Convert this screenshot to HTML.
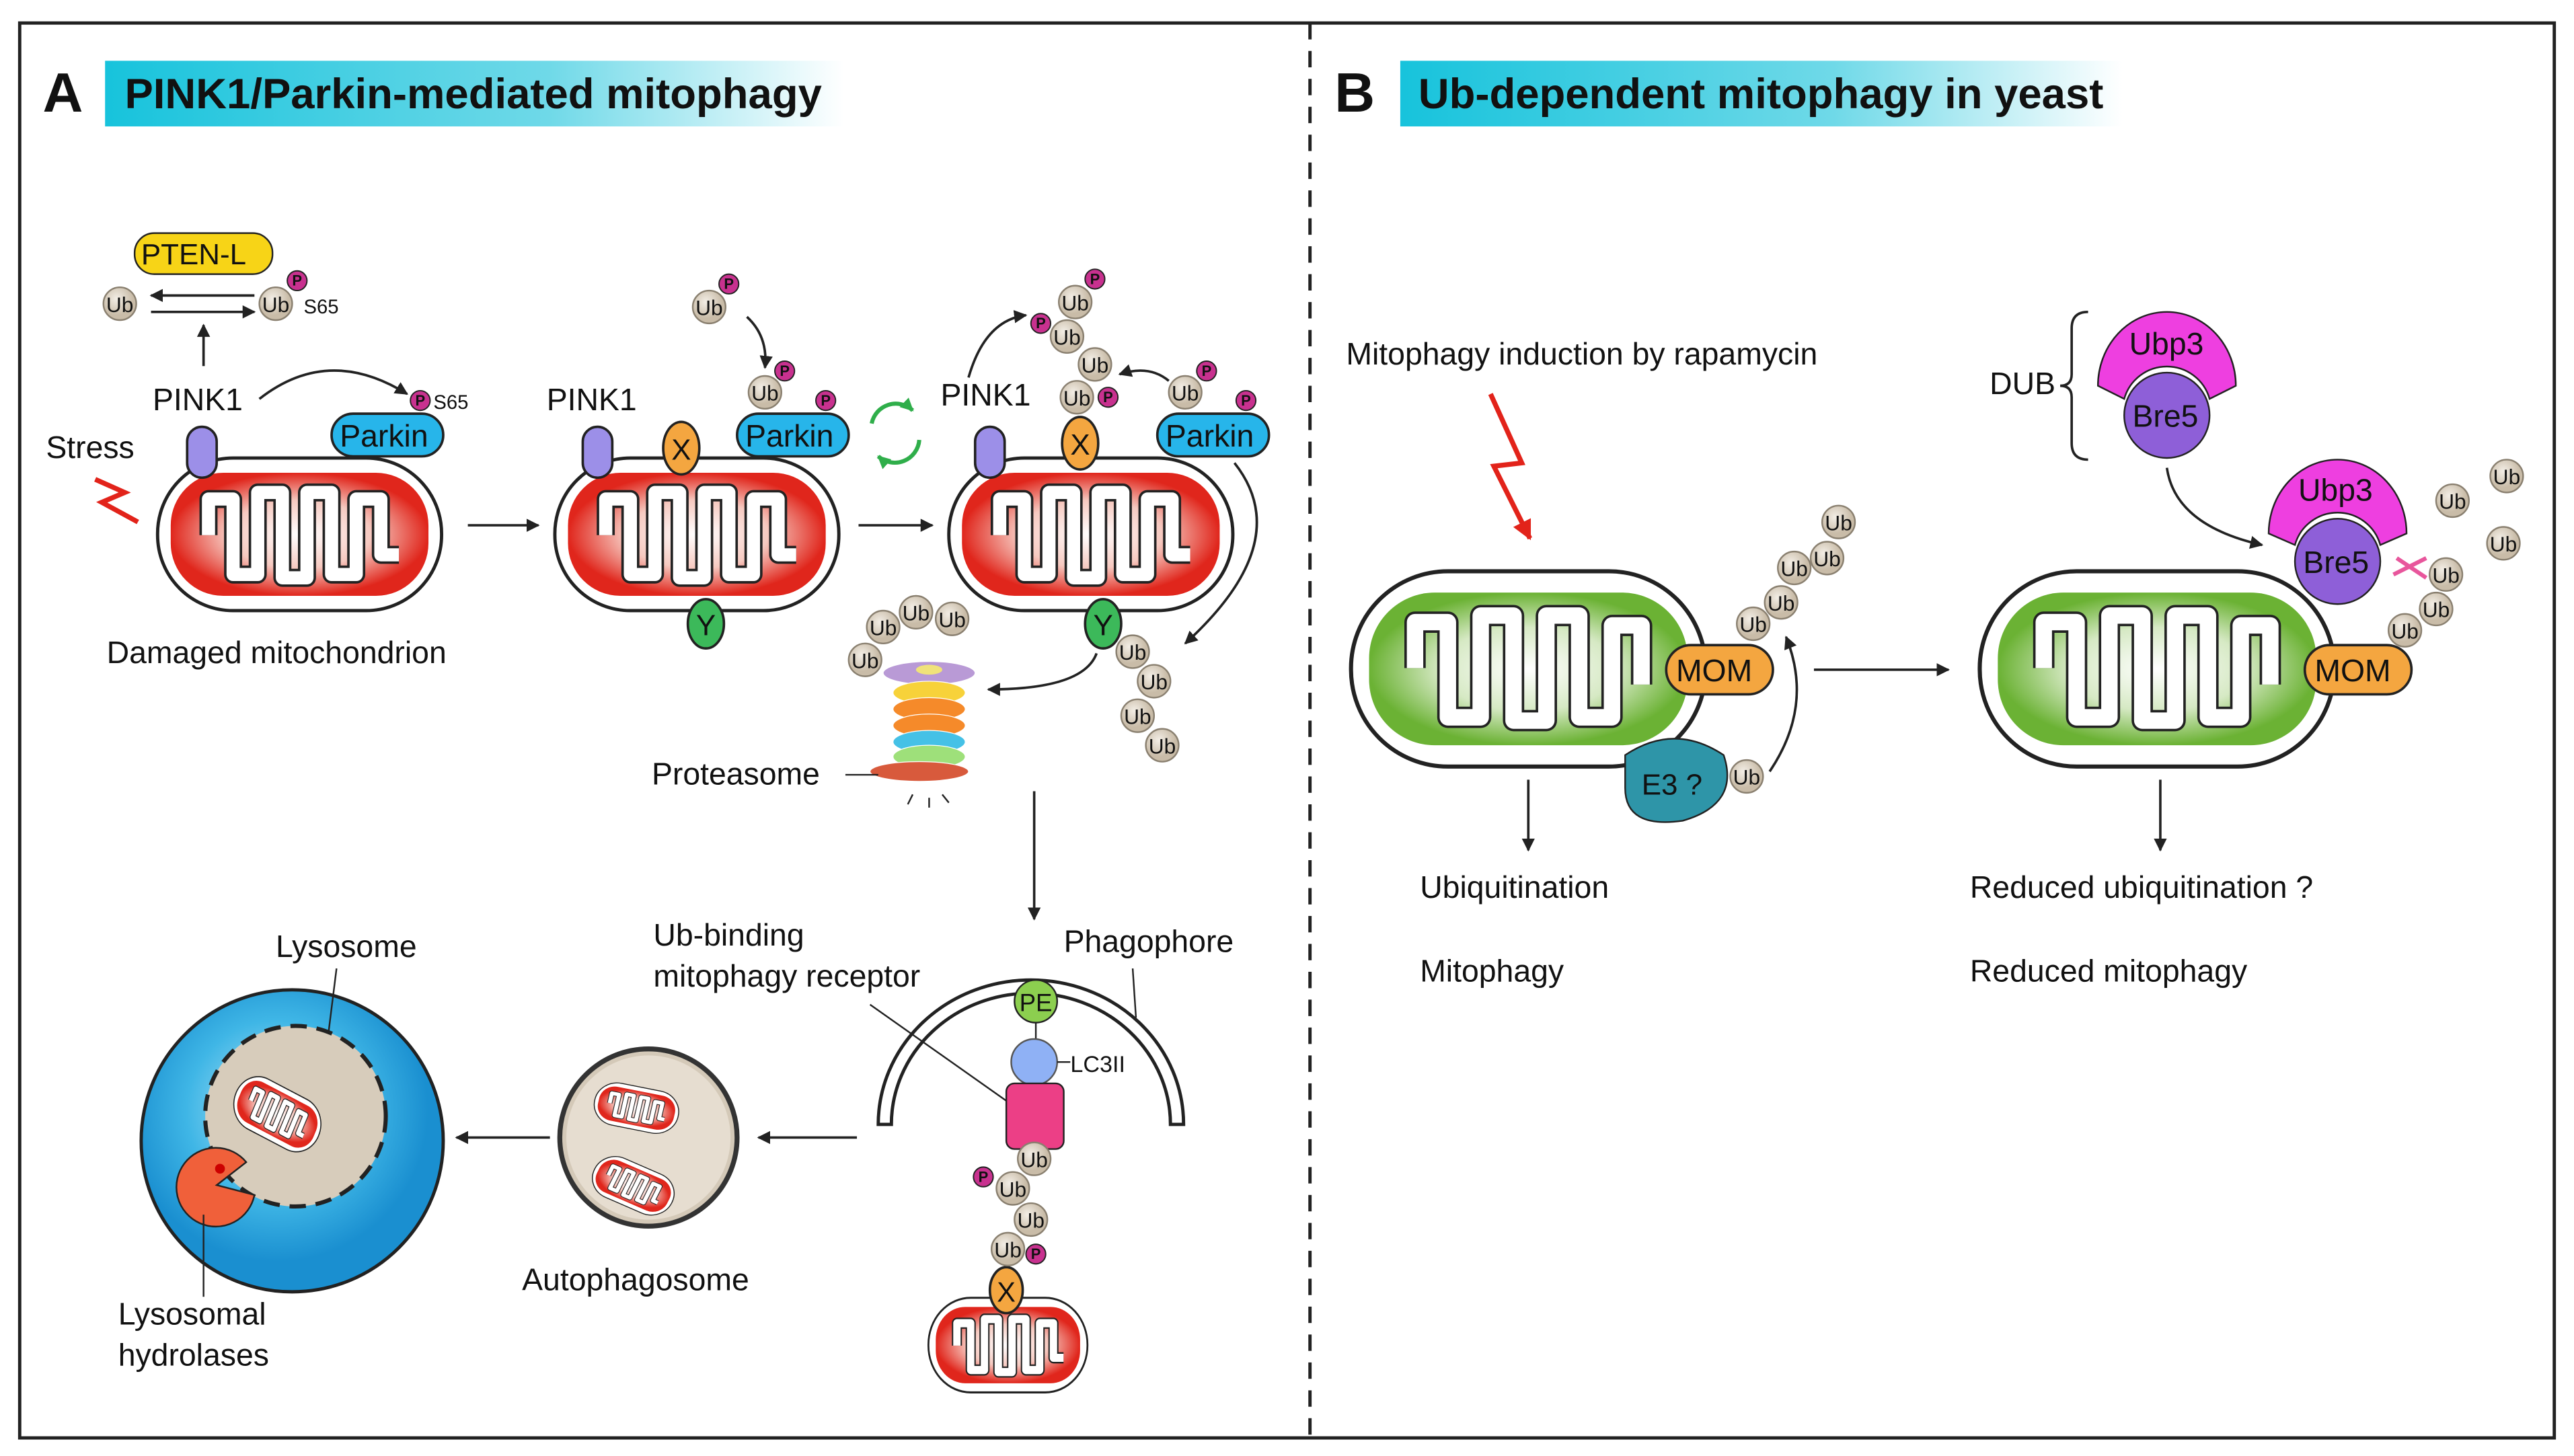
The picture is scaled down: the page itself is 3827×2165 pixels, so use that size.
<!DOCTYPE html>
<html><head><meta charset="utf-8"><style>
html,body{margin:0;padding:0;background:#fff;}
svg{display:block;}
text{font-family:"Liberation Sans",Arial,sans-serif;fill:#111;}
.ub{font-size:13px;text-anchor:middle;}
.lab{font-size:19px;}
</style></head><body>
<svg width="3827" height="2165" viewBox="0 0 1568 887" xmlns="http://www.w3.org/2000/svg">
<defs>
<linearGradient id="tb" x1="0" x2="1"><stop offset="0" stop-color="#17c3dc"/><stop offset="0.6" stop-color="#6fd9e8"/><stop offset="1" stop-color="#fff"/></linearGradient>
<radialGradient id="rg"><stop offset="0" stop-color="#fff"/><stop offset="0.55" stop-color="#f6c9c0"/><stop offset="1" stop-color="#e0261c"/></radialGradient>
<radialGradient id="gg"><stop offset="0" stop-color="#fff"/><stop offset="0.55" stop-color="#d6e9c4"/><stop offset="1" stop-color="#6bb234"/></radialGradient>
<radialGradient id="lys" cx="0.45" cy="0.4"><stop offset="0" stop-color="#bfe9f8"/><stop offset="0.6" stop-color="#3fb6e6"/><stop offset="1" stop-color="#1a8fd0"/></radialGradient>
<radialGradient id="ubg" cx="0.4" cy="0.35"><stop offset="0" stop-color="#f3eee6"/><stop offset="1" stop-color="#c9bca8"/></radialGradient>
<marker id="ar" viewBox="0 0 10 10" refX="9" refY="5" markerWidth="8" markerHeight="8" markerUnits="userSpaceOnUse" orient="auto"><path d="M0,0 L10,5 L0,10 z" fill="#222"/></marker>
<marker id="ag" viewBox="0 0 10 10" refX="9" refY="5" markerWidth="8" markerHeight="8" markerUnits="userSpaceOnUse" orient="auto"><path d="M0,0 L10,5 L0,10 z" fill="#2fae4a"/></marker>
<marker id="arr" viewBox="0 0 10 10" refX="9" refY="5" markerWidth="12" markerHeight="12" markerUnits="userSpaceOnUse" orient="auto"><path d="M0,0 L10,5 L0,10 z" fill="#e2231a"/></marker>
<g id="mitoR">
<rect x="1" y="1" width="173" height="93" rx="46" fill="#fff" stroke="#222" stroke-width="2"/>
<rect x="9" y="10" width="157" height="75" rx="32" fill="url(#rg)"/>
<path d="M32 48 V26 H47 V72 H62 V22 H77 V74 H92 V22 H107 V72 H122 V26 H137 V60 H148" fill="none" stroke="#222" stroke-width="11" stroke-linejoin="round"/>
<path d="M32 48 V26 H47 V72 H62 V22 H77 V74 H92 V22 H107 V72 H122 V26 H137 V60 H148" fill="none" stroke="#fff" stroke-width="8" stroke-linejoin="round"/>
</g>
<g id="mitoG">
<rect x="1" y="1" width="216" height="119" rx="59" fill="#fff" stroke="#222" stroke-width="2.5"/>
<rect x="12" y="14" width="194" height="93" rx="40" fill="url(#gg)"/>
<path d="M40 60 V32 H60 V90 H80 V28 H100 V92 H120 V28 H140 V90 H160 V34 H178 V70" fill="none" stroke="#222" stroke-width="13" stroke-linejoin="round"/>
<path d="M40 60 V32 H60 V90 H80 V28 H100 V92 H120 V28 H140 V90 H160 V34 H178 V70" fill="none" stroke="#fff" stroke-width="10" stroke-linejoin="round"/>
</g>
</defs>

<rect x="12" y="14" width="1544" height="862" fill="none" stroke="#222" stroke-width="2"/>
<line x1="798" y1="14" x2="798" y2="876" stroke="#222" stroke-width="2" stroke-dasharray="10,7"/>

<text x="26" y="68" style="font-size:34px;font-weight:bold">A</text>
<rect x="64" y="37" width="450" height="40" fill="url(#tb)"/>
<text x="76" y="66" style="font-size:26px;font-weight:bold">PINK1/Parkin-mediated mitophagy</text>
<text x="813" y="68" style="font-size:34px;font-weight:bold">B</text>
<rect x="853" y="37" width="440" height="40" fill="url(#tb)"/>
<text x="864" y="66" style="font-size:26px;font-weight:bold">Ub-dependent mitophagy in yeast</text>

<use href="#mitoR" x="95" y="278"/>
<use href="#mitoR" x="337" y="278"/>
<use href="#mitoR" x="577" y="278"/>
<use href="#mitoR" transform="translate(565,790) scale(0.56,0.62)"/>

<rect x="82" y="142" width="84" height="25" rx="12" fill="#f7d417" stroke="#222"/>
<text x="86" y="161" style="font-size:18px">PTEN-L</text>
<line x1="155" y1="180" x2="92" y2="180" stroke="#222" stroke-width="1.5" marker-end="url(#ar)"/>
<line x1="92" y1="190" x2="155" y2="190" stroke="#222" stroke-width="1.5" marker-end="url(#ar)"/>
<line x1="124" y1="223" x2="124" y2="198" stroke="#222" stroke-width="1.5" marker-end="url(#ar)"/>
<text x="185" y="191" style="font-size:12px">S65</text>
<text x="93" y="250" class="lab">PINK1</text>
<path d="M158 243 Q200 210 248 240" fill="none" stroke="#222" stroke-width="1.5" marker-end="url(#ar)"/>
<text x="264" y="249" style="font-size:12px">S65</text>
<text x="28" y="279" class="lab">Stress</text>
<path d="M58 292 L76 300 L62 306 L84 318" fill="none" stroke="#e2231a" stroke-width="3"/>
<text x="65" y="404" class="lab">Damaged mitochondrion</text>
<line x1="285" y1="320" x2="328" y2="320" stroke="#222" stroke-width="1.5" marker-end="url(#ar)"/>
<line x1="523" y1="320" x2="568" y2="320" stroke="#222" stroke-width="1.5" marker-end="url(#ar)"/>
<text x="333" y="250" class="lab">PINK1</text>
<text x="573" y="247" class="lab">PINK1</text>

<g fill="#9c8fe8" stroke="#222" stroke-width="1.5">
<rect x="114" y="260" width="18" height="31" rx="9"/>
<rect x="355" y="260" width="18" height="31" rx="9"/>
<rect x="594" y="260" width="18" height="31" rx="9"/>
</g>
<g fill="#f4a640" stroke="#222" stroke-width="1.5">
<ellipse cx="415" cy="273" rx="11" ry="16"/>
<ellipse cx="658" cy="270" rx="11" ry="16"/>
<ellipse cx="613" cy="786" rx="10" ry="14"/>
</g>
<text x="415" y="280" style="font-size:18px" text-anchor="middle">X</text>
<text x="658" y="277" style="font-size:18px" text-anchor="middle">X</text>
<text x="613" y="793" style="font-size:17px" text-anchor="middle">X</text>
<g fill="#3cb95a" stroke="#222" stroke-width="1.5">
<ellipse cx="430" cy="380" rx="11" ry="15"/>
<ellipse cx="672" cy="380" rx="11" ry="15"/>
</g>
<text x="430" y="387" style="font-size:18px" text-anchor="middle">Y</text>
<text x="672" y="387" style="font-size:18px" text-anchor="middle">Y</text>
<g fill="#27b5ea" stroke="#222" stroke-width="1.5">
<rect x="202" y="252" width="68" height="26" rx="13"/>
<rect x="449" y="252" width="68" height="26" rx="13"/>
<rect x="705" y="252" width="68" height="26" rx="13"/>
</g>
<text x="207" y="272" style="font-size:19px">Parkin</text>
<text x="454" y="272" style="font-size:19px">Parkin</text>
<text x="710" y="272" style="font-size:19px">Parkin</text>

<path d="M531 258 A15 15 0 0 1 556 250" fill="none" stroke="#2fae4a" stroke-width="2.5" marker-end="url(#ag)"/>
<path d="M560 268 A15 15 0 0 1 535 278" fill="none" stroke="#2fae4a" stroke-width="2.5" marker-end="url(#ag)"/>

<path d="M455 193 Q468 205 466 224" fill="none" stroke="#222" stroke-width="1.5" marker-end="url(#ar)"/>
<path d="M590 230 Q600 195 625 192" fill="none" stroke="#222" stroke-width="1.5" marker-end="url(#ar)"/>
<path d="M712 232 Q700 222 682 228" fill="none" stroke="#222" stroke-width="1.5" marker-end="url(#ar)"/>
<path d="M752 282 Q790 330 722 392" fill="none" stroke="#222" stroke-width="1.5" marker-end="url(#ar)"/>
<path d="M668 398 Q660 420 602 420" fill="none" stroke="#222" stroke-width="1.5" marker-end="url(#ar)"/>
<line x1="630" y1="482" x2="630" y2="560" stroke="#222" stroke-width="1.5" marker-end="url(#ar)"/>
<line x1="522" y1="693" x2="462" y2="693" stroke="#222" stroke-width="1.5" marker-end="url(#ar)"/>
<line x1="335" y1="693" x2="278" y2="693" stroke="#222" stroke-width="1.5" marker-end="url(#ar)"/>

<g stroke="#fff" stroke-width="0.5">
<ellipse cx="566" cy="410" rx="28" ry="7" fill="#b99ad6"/>
<ellipse cx="566" cy="422" rx="22" ry="7" fill="#f7d23a"/>
<ellipse cx="566" cy="432" rx="22" ry="7" fill="#f58a2a"/>
<ellipse cx="566" cy="442" rx="22" ry="7" fill="#f58a2a"/>
<ellipse cx="566" cy="452" rx="22" ry="7" fill="#45c1e6"/>
<ellipse cx="566" cy="461" rx="22" ry="7" fill="#9ee07a"/>
<ellipse cx="560" cy="470" rx="30" ry="6" fill="#d85a3c"/>
</g>
<ellipse cx="566" cy="408" rx="8" ry="3" fill="#f0e27a"/>
<text x="397" y="478" class="lab">Proteasome</text>
<line x1="515" y1="472" x2="535" y2="472" stroke="#222"/>
<path d="M556 484 l-3 6 M566 486 v6 M574 484 l4 5" stroke="#222"/>

<path d="M535 685 A93 88 0 0 1 721 685 L713 685 A85 80 0 0 0 543 685 Z" fill="#fff" stroke="#222" stroke-width="2"/>
<text x="398" y="576" class="lab">Ub-binding</text>
<text x="398" y="601" class="lab">mitophagy receptor</text>
<text x="648" y="580" class="lab">Phagophore</text>
<line x1="530" y1="612" x2="615" y2="672" stroke="#222"/>
<line x1="690" y1="590" x2="692" y2="620" stroke="#222"/>
<line x1="631" y1="623" x2="631" y2="705" stroke="#222"/>
<circle cx="631" cy="610" r="13" fill="#8ccf4f" stroke="#222"/>
<text x="631" y="616" style="font-size:15px" text-anchor="middle">PE</text>
<circle cx="630" cy="647" r="14" fill="#8fb1f5" stroke="#555"/>
<text x="652" y="653" style="font-size:14px">LC3II</text>
<line x1="644" y1="647" x2="652" y2="647" stroke="#222"/>
<rect x="613" y="660" width="35" height="40" rx="5" fill="#ec3f86" stroke="#222"/>

<circle cx="395" cy="693" r="54" fill="#d4c9b8" stroke="#333" stroke-width="3"/>
<circle cx="395" cy="693" r="50" fill="#e6ddd0"/>
<use href="#mitoR" transform="translate(365,657) scale(0.3,0.28) rotate(12)"/>
<use href="#mitoR" transform="translate(368,700) scale(0.3,0.28) rotate(25)"/>
<text x="318" y="786" class="lab">Autophagosome</text>

<circle cx="178" cy="695" r="92" fill="url(#lys)" stroke="#222" stroke-width="2"/>
<circle cx="180" cy="680" r="55" fill="#d7ccbb" stroke="#222" stroke-width="2.5" stroke-dasharray="10,6"/>
<use href="#mitoR" transform="translate(150,650) scale(0.32,0.36) rotate(25)"/>
<path d="M155 728 A24 24 0 1 1 150 708 L132 722 Z" fill="#f0603a" stroke="#222"/>
<circle cx="134" cy="712" r="3" fill="#c00"/>
<text x="168" y="583" class="lab">Lysosome</text>
<line x1="205" y1="590" x2="200" y2="630" stroke="#222"/>
<line x1="124" y1="740" x2="124" y2="790" stroke="#222"/>
<text x="72" y="807" class="lab">Lysosomal</text>
<text x="72" y="832" class="lab">hydrolases</text>

<text x="820" y="222" class="lab">Mitophagy induction by rapamycin</text>
<path d="M908 240 L927 282 L910 284 L932 328" fill="none" stroke="#e2231a" stroke-width="3" marker-end="url(#arr)"/>
<use href="#mitoG" x="822" y="347"/>
<use href="#mitoG" x="1205" y="347"/>
<g fill="#f4a640" stroke="#222" stroke-width="1.5">
<rect x="1015" y="393" width="65" height="30" rx="15"/>
<rect x="1404" y="393" width="65" height="30" rx="15"/>
</g>
<text x="1021" y="415" style="font-size:19px">MOM</text>
<text x="1410" y="415" style="font-size:19px">MOM</text>
<path d="M990 460 Q1020 440 1050 460 Q1060 490 1025 500 Q990 505 990 480 Z" fill="#2e95a8" stroke="#222"/>
<text x="1000" y="484" style="font-size:18px">E3 ?</text>
<path d="M1078 470 Q1105 430 1088 388" fill="none" stroke="#222" stroke-width="1.5" marker-end="url(#ar)"/>
<line x1="931" y1="475" x2="931" y2="518" stroke="#222" stroke-width="1.5" marker-end="url(#ar)"/>
<text x="865" y="547" class="lab">Ubiquitination</text>
<text x="865" y="598" class="lab">Mitophagy</text>
<line x1="1105" y1="408" x2="1187" y2="408" stroke="#222" stroke-width="1.5" marker-end="url(#ar)"/>
<line x1="1316" y1="475" x2="1316" y2="518" stroke="#222" stroke-width="1.5" marker-end="url(#ar)"/>
<text x="1200" y="547" class="lab">Reduced ubiquitination ?</text>
<text x="1200" y="598" class="lab">Reduced mitophagy</text>
<text x="1212" y="240" class="lab">DUB</text>
<path d="M1272 190 Q1262 190 1262 200 L1262 228 Q1262 235 1255 235 Q1262 235 1262 242 L1262 270 Q1262 280 1272 280" fill="none" stroke="#222" stroke-width="1.5"/>
<path d="M1320 285 Q1325 320 1378 332" fill="none" stroke="#222" stroke-width="1.5" marker-end="url(#ar)"/>
<path d="M1278 235 A42 45 0 0 1 1362 235 L1346 243 A27 27 0 0 0 1294 243 Z" fill="#ee3fe0" stroke="#222"/>
<circle cx="1320" cy="253" r="26" fill="#8e5fd8" stroke="#222"/>
<text x="1297" y="216" style="font-size:19px">Ubp3</text>
<text x="1299" y="260" style="font-size:19px">Bre5</text>
<path d="M1382 325 A42 45 0 0 1 1466 325 L1450 332 A27 27 0 0 0 1398 332 Z" fill="#ee3fe0" stroke="#222"/>
<circle cx="1424" cy="342" r="26" fill="#8e5fd8" stroke="#222"/>
<text x="1400" y="305" style="font-size:19px">Ubp3</text>
<text x="1403" y="349" style="font-size:19px">Bre5</text>
<path d="M1458 350 L1478 340 M1460 340 L1478 352" stroke="#e8569c" stroke-width="2.5"/>

<g fill="url(#ubg)" stroke="#8a8070" stroke-width="1">
<circle cx="73" cy="185" r="10"/><circle cx="168" cy="185" r="10"/>
<circle cx="432" cy="187" r="10"/><circle cx="466" cy="239" r="10"/>
<circle cx="655" cy="184" r="10"/><circle cx="650" cy="205" r="10"/><circle cx="667" cy="222" r="10"/><circle cx="656" cy="242" r="10"/><circle cx="722" cy="239" r="10"/>
<circle cx="690" cy="397" r="10"/><circle cx="703" cy="415" r="10"/><circle cx="693" cy="436" r="10"/><circle cx="708" cy="454" r="10"/>
<circle cx="527" cy="402" r="10"/><circle cx="538" cy="382" r="10"/><circle cx="558" cy="373" r="10"/><circle cx="580" cy="377" r="10"/>
<circle cx="630" cy="706" r="10"/><circle cx="617" cy="724" r="10"/><circle cx="628" cy="743" r="10"/><circle cx="614" cy="761" r="10"/>
<circle cx="1068" cy="380" r="10"/><circle cx="1085" cy="367" r="10"/><circle cx="1093" cy="346" r="10"/><circle cx="1113" cy="340" r="10"/><circle cx="1120" cy="318" r="10"/>
<circle cx="1064" cy="473" r="10"/>
<circle cx="1494" cy="305" r="10"/><circle cx="1527" cy="290" r="10"/><circle cx="1525" cy="331" r="10"/><circle cx="1490" cy="350" r="10"/><circle cx="1484" cy="371" r="10"/><circle cx="1465" cy="384" r="10"/>
</g>
<g>
<text x="73" y="190" class="ub">Ub</text><text x="168" y="190" class="ub">Ub</text>
<text x="432" y="192" class="ub">Ub</text><text x="466" y="244" class="ub">Ub</text>
<text x="655" y="189" class="ub">Ub</text><text x="650" y="210" class="ub">Ub</text><text x="667" y="227" class="ub">Ub</text><text x="656" y="247" class="ub">Ub</text><text x="722" y="244" class="ub">Ub</text>
<text x="690" y="402" class="ub">Ub</text><text x="703" y="420" class="ub">Ub</text><text x="693" y="441" class="ub">Ub</text><text x="708" y="459" class="ub">Ub</text>
<text x="527" y="407" class="ub">Ub</text><text x="538" y="387" class="ub">Ub</text><text x="558" y="378" class="ub">Ub</text><text x="580" y="382" class="ub">Ub</text>
<text x="630" y="711" class="ub">Ub</text><text x="617" y="729" class="ub">Ub</text><text x="628" y="748" class="ub">Ub</text><text x="614" y="766" class="ub">Ub</text>
<text x="1068" y="385" class="ub">Ub</text><text x="1085" y="372" class="ub">Ub</text><text x="1093" y="351" class="ub">Ub</text><text x="1113" y="345" class="ub">Ub</text><text x="1120" y="323" class="ub">Ub</text>
<text x="1064" y="478" class="ub">Ub</text>
<text x="1494" y="310" class="ub">Ub</text><text x="1527" y="295" class="ub">Ub</text><text x="1525" y="336" class="ub">Ub</text><text x="1490" y="355" class="ub">Ub</text><text x="1484" y="376" class="ub">Ub</text><text x="1465" y="389" class="ub">Ub</text>
</g>
<g fill="#c8318f" stroke="#222" stroke-width="0.8">
<circle cx="181" cy="171" r="6"/><circle cx="256" cy="244" r="6"/>
<circle cx="444" cy="173" r="6"/><circle cx="478" cy="226" r="6"/><circle cx="503" cy="244" r="6"/>
<circle cx="667" cy="170" r="6"/><circle cx="634" cy="197" r="6"/><circle cx="675" cy="242" r="6"/><circle cx="735" cy="226" r="6"/><circle cx="759" cy="244" r="6"/>
<circle cx="599" cy="717" r="6"/><circle cx="631" cy="764" r="6"/>
</g>
<g style="font-size:9px;font-weight:bold" text-anchor="middle">
<text x="181" y="174" fill="#fff">P</text><text x="256" y="247" fill="#fff">P</text>
<text x="444" y="176" fill="#fff">P</text><text x="478" y="229" fill="#fff">P</text><text x="503" y="247" fill="#fff">P</text>
<text x="667" y="173" fill="#fff">P</text><text x="634" y="200" fill="#fff">P</text><text x="675" y="245" fill="#fff">P</text><text x="735" y="229" fill="#fff">P</text><text x="759" y="247" fill="#fff">P</text>
<text x="599" y="720" fill="#fff">P</text><text x="631" y="767" fill="#fff">P</text>
</g>
</svg>
</body></html>
